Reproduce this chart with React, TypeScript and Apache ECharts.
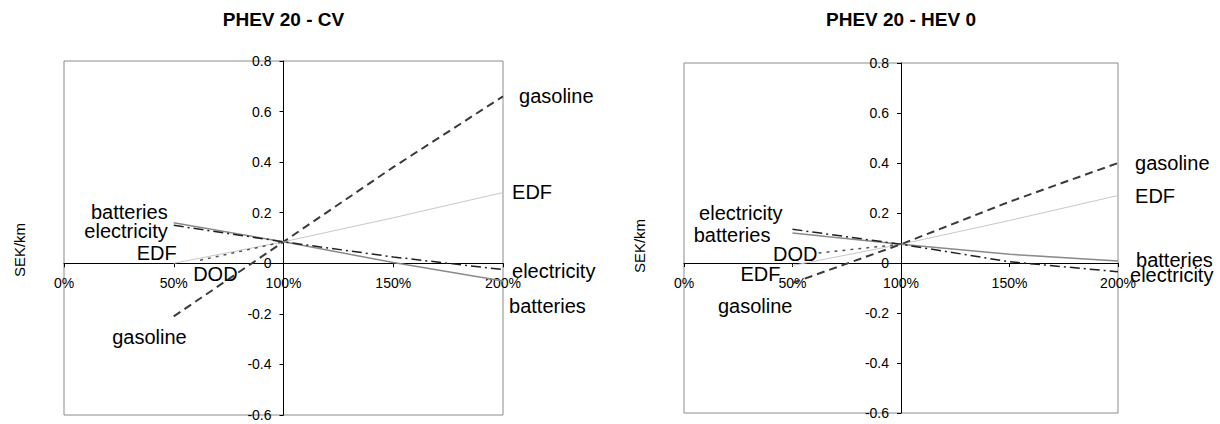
import React, { useEffect, useRef } from "react";
import * as echarts from "echarts";

// ---- data (x = % of base value, y = SEK/km) ----
const xTicks = [0, 50, 100, 150, 200];
const yTicks = [-0.6, -0.4, -0.2, 0, 0.2, 0.4, 0.6, 0.8];

const titles = ["PHEV 20 - CV", "PHEV 20 - HEV 0"];
const seriesNames = ["gasoline", "EDF", "batteries", "electricity", "DOD"];

// PHEV 20 - CV
const cvGasoline = [[50, -0.21], [100, 0.085], [150, 0.38], [200, 0.66]];
const cvEDF = [[50, 0.0], [100, 0.085], [150, 0.18], [200, 0.28]];
const cvBatteries = [[50, 0.16], [100, 0.085], [150, 0.003], [200, -0.07]];
const cvElectricity = [[50, 0.15], [100, 0.085], [150, 0.025], [200, -0.025]];
const cvDOD = [[62, 0.012], [100, 0.085]];

// PHEV 20 - HEV 0
const hevGasoline = [[50, -0.08], [100, 0.075], [150, 0.245], [200, 0.4]];
const hevEDF = [[50, -0.01], [100, 0.075], [150, 0.17], [200, 0.27]];
const hevBatteries = [[50, 0.12], [100, 0.075], [150, 0.035], [200, 0.008]];
const hevElectricity = [[50, 0.135], [100, 0.075], [150, 0.005], [200, -0.035]];
const hevDOD = [[62, 0.04], [100, 0.075]];

// ---- styles ----
const FONT = "Liberation Sans, Arial, sans-serif";
const lineStyles: Record<string, any> = {
  gasoline: { color: "#3a3a3a", width: 2, type: [8, 5] },
  EDF: { color: "#c8c8c8", width: 1 },
  batteries: { color: "#8a8a8a", width: 1.5 },
  electricity: { color: "#202020", width: 1.5, type: [10, 4, 2, 4] },
  DOD: { color: "#555555", width: 1.5, type: [3, 5] },
};

// label placement per chart: [side of first point, offset], [side of last point, offset]
type LblCfg = { first?: [string, number[]]; last?: [string, number[]] };
const cvLabels: Record<string, LblCfg> = {
  gasoline: { first: ["left", [13, 21]], last: ["right", [16, 0]] },
  EDF: { first: ["left", [3, -10]], last: ["right", [9, 0]] },
  batteries: { first: ["left", [-6, -11]], last: ["right", [6, 25]] },
  electricity: { first: ["left", [-6, 6]], last: ["right", [9, 1]] },
  DOD: { first: ["right", [-7, 14]] },
};
const hevLabels: Record<string, LblCfg> = {
  gasoline: { first: ["left", [0, 23]], last: ["right", [17, 0]] },
  EDF: { first: ["left", [-12, 8]], last: ["right", [17, 0]] },
  batteries: { first: ["left", [-22, 2]], last: ["right", [18, -1]] },
  electricity: { first: ["left", [-10, -16]], last: ["right", [12, 3]] },
  DOD: { first: ["left", [-1, 1]] },
};

const grids = [
  { left: 64, top: 61, width: 439, height: 354 },
  { left: 684, top: 63, width: 434, height: 350 },
];

function buildSeries(name: string, pts: number[][], idx: number, lbl: LblCfg) {
  const data = pts.map((p, i) => {
    const item: any = { value: p };
    let cfg: [string, number[]] | undefined;
    if (i === 0 && lbl.first) cfg = lbl.first;
    if (i === pts.length - 1 && lbl.last) cfg = lbl.last;
    if (cfg) {
      item.label = {
        show: true,
        position: cfg[0],
        distance: 0,
        offset: cfg[1],
        formatter: name,
        fontSize: 20,
        fontFamily: FONT,
        color: "#000",
      };
    }
    return item;
  });
  return {
    type: "line",
    name,
    xAxisIndex: idx,
    yAxisIndex: idx,
    data,
    symbol: "circle",
    symbolSize: 0.1,
    showSymbol: true,
    itemStyle: { color: "rgba(0,0,0,0)", borderWidth: 0 },
    lineStyle: lineStyles[name],
    label: { show: false },
    emphasis: { disabled: true },
    z: name === "EDF" ? 1 : 2,
  };
}

export default function App() {
  const ref = useRef<HTMLDivElement>(null);
  useEffect(() => {
    if (!ref.current) return;
    const chart = echarts.init(ref.current, undefined, { renderer: "svg" });
    const axisTextStyle = { color: "#000", fontFamily: FONT, fontSize: 14 };
    const yMin = yTicks[0];
    const yMax = yTicks[yTicks.length - 1];
    const xAxes = grids.map((g, i) => ({
      type: "value",
      gridIndex: i,
      min: xTicks[0],
      max: xTicks[xTicks.length - 1],
      interval: 50,
      position: "bottom",
      // place the axis at y = 0
      offset: -(g.height * (0 - yMin)) / (yMax - yMin),
      axisLine: { show: true, onZero: false, lineStyle: { color: "#000", width: 1 } },
      axisTick: { show: true, length: 4, lineStyle: { color: "#000" } },
      axisLabel: { ...axisTextStyle, margin: 13, formatter: (v: number) => v + "%" },
      splitLine: { show: false },
    }));
    const yAxes = grids.map((g, i) => ({
      type: "value",
      gridIndex: i,
      min: yMin,
      max: yMax,
      interval: 0.2,
      position: "left",
      // place the axis at x = 100%
      offset: -g.width / 2,
      axisLine: { show: true, onZero: false, lineStyle: { color: "#000", width: 1 } },
      axisTick: { show: true, length: 4, lineStyle: { color: "#000" } },
      axisLabel: {
        ...axisTextStyle,
        margin: 12,
        formatter: (v: number) => (Math.abs(v) < 1e-9 ? "0" : v.toFixed(1)),
      },
      splitLine: { show: false },
    }));
    const cvSets: Record<string, number[][]> = {
      gasoline: cvGasoline,
      EDF: cvEDF,
      batteries: cvBatteries,
      electricity: cvElectricity,
      DOD: cvDOD,
    };
    const hevSets: Record<string, number[][]> = {
      gasoline: hevGasoline,
      EDF: hevEDF,
      batteries: hevBatteries,
      electricity: hevElectricity,
      DOD: hevDOD,
    };
    const series: any[] = [];
    seriesNames.forEach((n) => series.push(buildSeries(n, cvSets[n], 0, cvLabels[n])));
    seriesNames.forEach((n) => series.push(buildSeries(n, hevSets[n], 1, hevLabels[n])));

    const graphic: any[] = [];
    grids.forEach((g, i) => {
      graphic.push({
        type: "text",
        x: g.left + g.width / 2,
        y: 19,
        style: {
          text: titles[i],
          align: "center",
          verticalAlign: "middle",
          font: "bold 19px " + FONT,
          fill: "#000",
        },
      });
      graphic.push({
        type: "text",
        x: g.left - 45,
        y: i === 0 ? 250 : 246,
        rotation: Math.PI / 2,
        style: {
          text: "SEK/km",
          align: "center",
          verticalAlign: "middle",
          font: "15px " + FONT,
          fill: "#000",
        },
      });
    });

    chart.setOption({
      animation: false,
      backgroundColor: "#fff",
      grid: grids.map((g) => ({
        ...g,
        show: true,
        borderColor: "#8c8c8c",
        borderWidth: 1,
        backgroundColor: "transparent",
        containLabel: false,
        outerBoundsMode: "none",
      })),
      xAxis: xAxes,
      yAxis: yAxes,
      series,
      graphic,
    });
    return () => chart.dispose();
  }, []);
  return (
    <div
      ref={ref}
      style={{ position: "absolute", left: 0, top: 0, width: 1220, height: 424 }}
    />
  );
}
